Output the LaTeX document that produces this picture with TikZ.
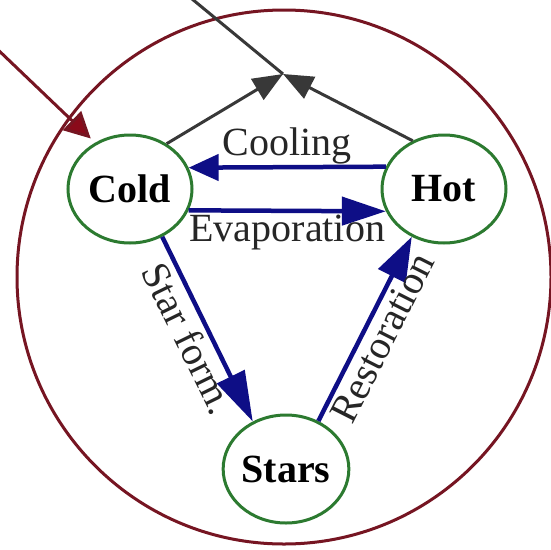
\documentclass[tikz,border=0pt]{standalone}
\usepackage{fontspec}
\setmainfont{Liberation Serif}
\usetikzlibrary{arrows.meta,shapes.geometric}
\definecolor{galred}{HTML}{761522}
\definecolor{redhead}{HTML}{8A0A1A}
\definecolor{nodegreen}{HTML}{2C7A30}
\definecolor{flowblue}{HTML}{0E0E86}
\definecolor{flowgray}{HTML}{383838}
\tikzset{
  phase/.style={ellipse, draw=nodegreen, line width=3pt, fill=white,
    minimum width=124pt, minimum height=108pt, inner sep=0pt,
    font=\fontsize{40}{46}\selectfont\bfseries},
  bigcircle/.style={circle, draw=galred, line width=3pt, minimum size=534pt, inner sep=0pt},
  blueflow/.style={draw=flowblue, line width=4.5pt},
  grayflow/.style={draw=flowgray, line width=3pt,
    -{Triangle[length=30pt,width=24pt]}},
  redflow/.style={draw=galred, line width=3pt,
    -{Triangle[length=26pt,width=26pt,fill=redhead]}},
  flowlabel/.style={font=\fontsize{40}{46}\selectfont, text=black!85}
}
\begin{document}
\begin{tikzpicture}[x=1pt,y=-1pt]
\clip (0,0) rectangle (551,549);
\fill[white] (0,0) rectangle (551,549);
\node[bigcircle] (galaxy) at (284,277) {};
\node[phase] (cold) at (130,189) {Cold};
\node[phase] (hot) at (444,189) {Hot};
\node[phase] (stars) at (286,469) {Stars};
\coordinate (junction) at (283,74);
\coordinate (outflow) at (186,-6);
\coordinate (inflow) at (-6,46);
% outflow
\draw[flowgray, line width=3pt] (junction) -- (outflow);
\draw[grayflow] (cold.51) -- (junction);
\draw[grayflow] (hot.123) -- (junction);
% inflow
\draw[redflow, shorten >=6pt] (inflow) -- (cold.127);
% blue flows
\draw[blueflow, -{Triangle[length=30pt,width=26pt]}] (hot.159) -- (cold.20)
  node[flowlabel, midway, above, inner sep=0.5pt] (cooling) {Cooling};
\draw[blueflow, -{Triangle[length=44pt,width=28pt]}] (cold.-20) -- (hot.201)
  node[flowlabel, midway, below, inner sep=1.5pt] (evap) {Evaporation};
\draw[blueflow, -{Triangle[length=50pt,width=30pt]}] (cold.-56) -- (stars.125)
  node[flowlabel, midway, sloped, below, inner sep=4pt] (sf) {Star form.};
\draw[blueflow, -{Triangle[length=44pt,width=30pt]}] (stars.56) -- (hot.236)
  node[flowlabel, midway, sloped, below, inner sep=4pt] (rest) {Restoration};
\end{tikzpicture}
\end{document}
